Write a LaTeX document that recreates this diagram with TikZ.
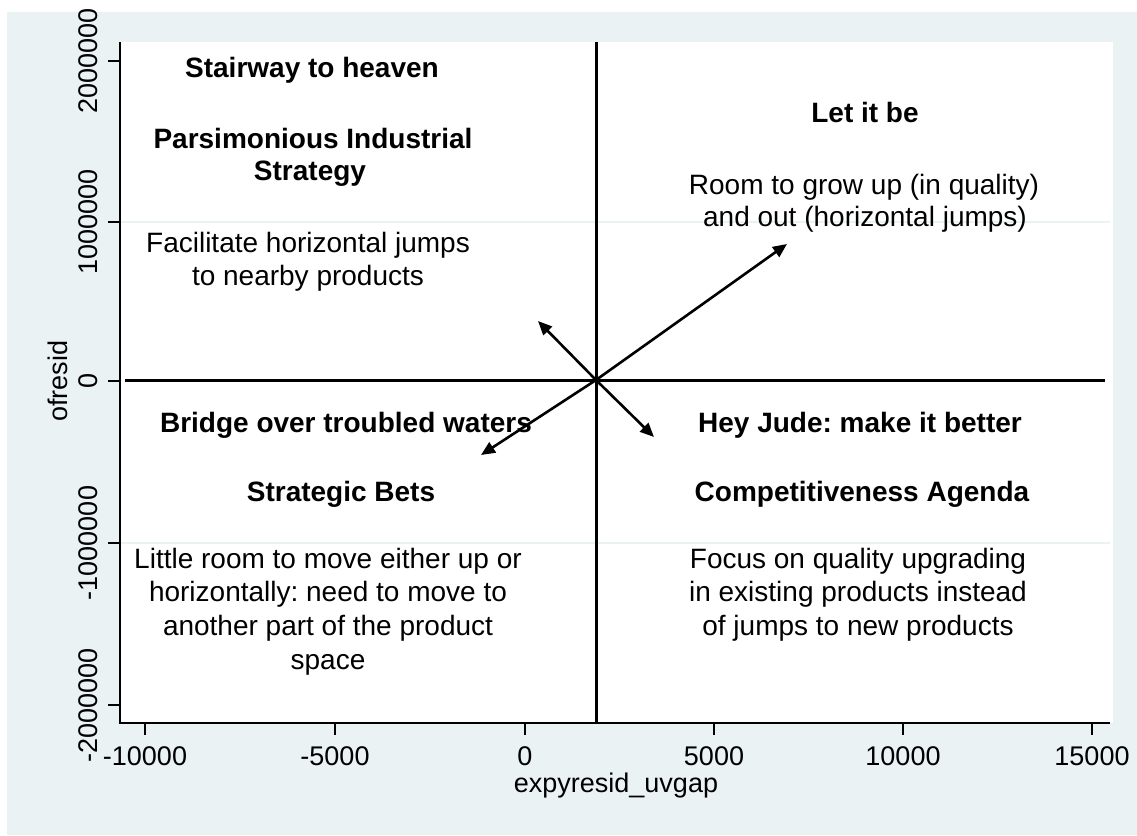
\documentclass[tikz,border=0pt]{standalone}
\usepackage{fontspec}
\setmainfont{Liberation Sans}
\usetikzlibrary{arrows.meta}
\definecolor{bgc}{HTML}{EAF2F3}
\frenchspacing
\begin{document}
\begin{tikzpicture}[x=1pt,y=-1pt,
  txt/.style={font=\fontsize{28}{33}\selectfont, inner sep=0pt, anchor=base},
  hd/.style={font=\fontsize{28}{33}\selectfont\bfseries, inner sep=0pt, anchor=base},
  ticklbl/.style={font=\fontsize{27}{30}\selectfont, inner sep=0pt, anchor=base},
  ylbl/.style={font=\fontsize{27}{30}\selectfont, inner sep=0pt, anchor=base, rotate=90},
  axisline/.style={line width=2.4pt, black},
  gridline/.style={line width=2pt, bgc},
  quadline/.style={line width=3pt, black},
  arr/.style={line width=2.6pt, -{Triangle[length=14pt,width=12pt]}}
]
\useasboundingbox (0,0) rectangle (1137,835);
\fill[bgc] (7,12) rectangle (1137,835);
\fill[white] (120,42) rectangle (1113,723);
% grid lines
\draw[gridline] (120,222) -- (1110,222);
\draw[gridline] (120,543) -- (1110,543);
% axes
\draw[axisline] (120,42) -- (120,723) -- (1110,723);
% y ticks
\foreach \yy in {61,222,381,543,705} { \draw[axisline] (108,\yy) -- (120,\yy); }
% x ticks
\foreach \xx in {145,335,525,714,903,1092} { \draw[axisline] (\xx,723) -- (\xx,735); }
% y tick labels
\node[ylbl] (y2) at (97,61) {2000000};
\node[ylbl] (y1) at (97,222) {1000000};
\node[ylbl] (y0) at (97,381) {0};
\node[ylbl] (ym1) at (97,543) {-1000000};
\node[ylbl] (ym2) at (97,705) {-2000000};
\node[ylbl] (ytitle) at (67,381) {ofresid};
% x tick labels
\node[ticklbl] (xm10) at (145,765) {-10000};
\node[ticklbl] (xm5) at (335,765) {-5000};
\node[ticklbl] (x0) at (525,765) {0};
\node[ticklbl] (x5) at (714,765) {5000};
\node[ticklbl] (x10) at (903,765) {10000};
\node[ticklbl] (x15) at (1092,765) {15000};
\node[ticklbl] (xtitle) at (616,792) {expyresid\_uvgap};
% quadrant lines
\draw[quadline] (125,380) -- (1105,380);
\draw[quadline] (596,42) -- (596,723);
% arrows
\coordinate (o) at (596,380);
\coordinate (ul) at (538,321);
\coordinate (ur) at (787,244);
\coordinate (ll) at (481,455);
\coordinate (lr) at (654,437);
\draw[arr] (o) -- (ul);
\draw[arr] (o) -- (ur);
\draw[arr] (o) -- (ll);
\draw[arr] (o) -- (lr);
% upper left
\node[hd] (t1) at (312,77) {Stairway to heaven};
\node[hd] (t2a) at (313,148) {Parsimonious Industrial};
\node[hd] (t2b) at (310,180) {Strategy};
\node[txt] (t3a) at (308,252) {Facilitate horizontal jumps};
\node[txt] (t3b) at (308,285) {to nearby products};
% upper right
\node[hd] (r1) at (865,122) {Let it be};
\node[txt] (r2a) at (864,194) {Room to grow up (in quality)};
\node[txt] (r2b) at (865,226) {and out (horizontal jumps)};
% lower left
\node[hd] (b1) at (346,432) {Bridge over troubled waters};
\node[hd] (b2) at (341,501) {Strategic Bets};
\node[txt] (b3a) at (328,568) {Little room to move either up or};
\node[txt] (b3b) at (328,601) {horizontally: need to move to};
\node[txt] (b3c) at (328,635) {another part of the product};
\node[txt] (b3d) at (328,669) {space};
% lower right
\node[hd] (h1) at (860,432) {Hey Jude: make it better};
\node[hd] (h2) at (862,501) {Competitiveness Agenda};
\node[txt] (h3a) at (858,568) {Focus on quality upgrading};
\node[txt] (h3b) at (858,601) {in existing products instead};
\node[txt] (h3c) at (858,635) {of jumps to new products};
\end{tikzpicture}
\end{document}
